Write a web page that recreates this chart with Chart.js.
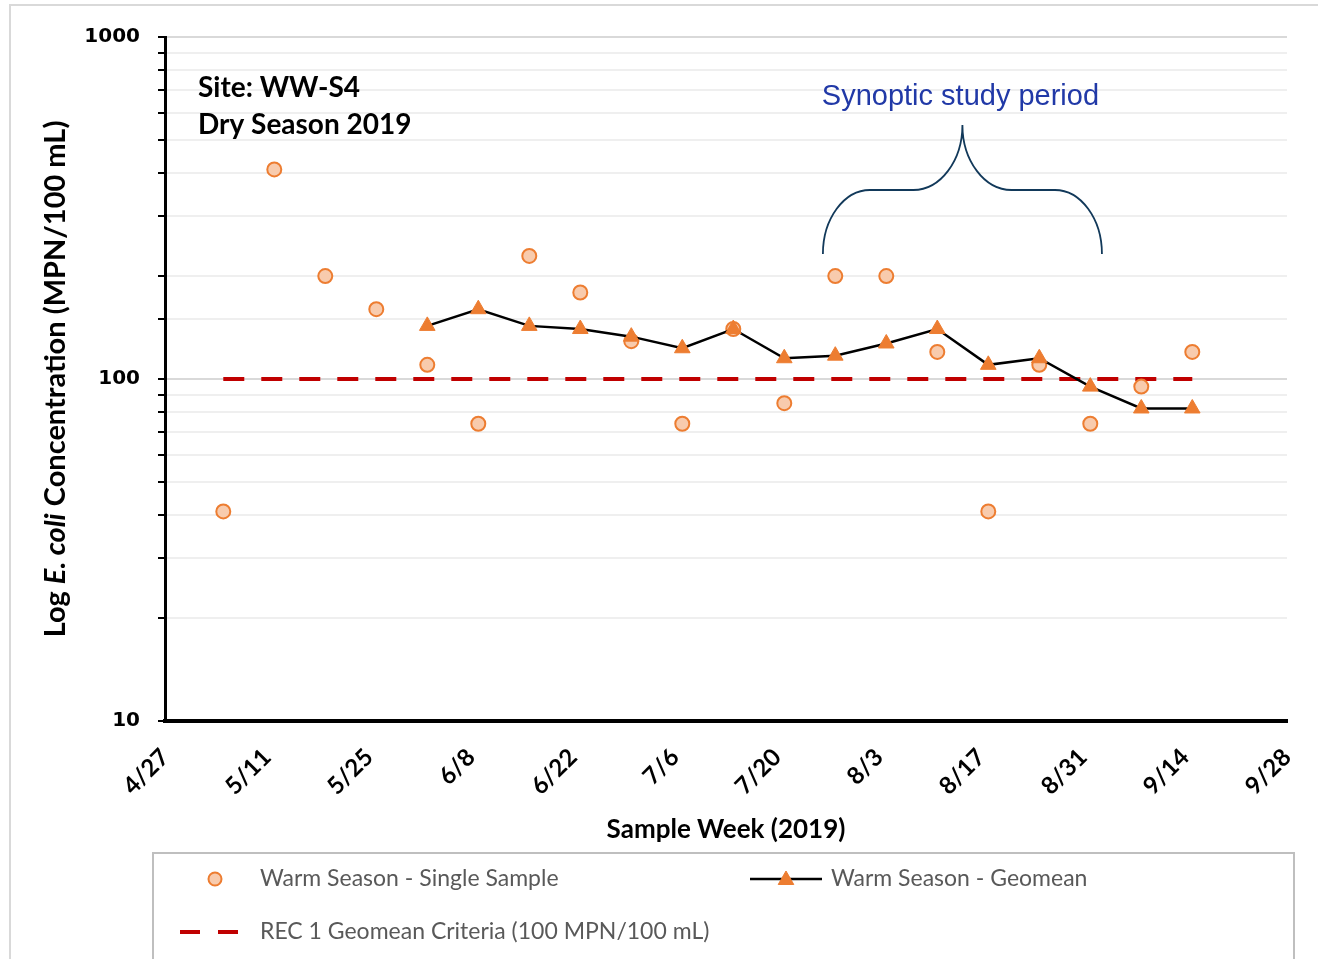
<!DOCTYPE html>
<html>
<head>
<meta charset="utf-8">
<title>WW-S4 Dry Season 2019</title>
<script src="https://cdn.jsdelivr.net/npm/chart.js@4.4.1/dist/chart.umd.min.js"></script>
<style>
  html,body{margin:0;padding:0;background:#fff}
  #wrap{width:1318px;height:959px;position:relative}
</style>
</head>
<body>
<div id="wrap"><canvas id="chart" width="1318" height="959"></canvas></div>
<script>
// sample weeks (2019) and E. coli results
const sampleWeeks = ['5/5','5/12','5/19','5/26','6/2','6/9','6/16','6/23','6/30','7/7','7/14','7/21','7/28','8/4','8/11','8/18','8/25','9/1','9/8','9/15'];
const singleSample = [41,410,200,160,110,74,229,179,129,74,140,85,200,200,120,41,110,74,95,120];

const geomeanWeeks = ['6/2','6/9','6/16','6/23','6/30','7/7','7/14','7/21','7/28','8/4','8/11','8/18','8/25','9/1','9/8','9/15'];
const geomean = [143,160,143,140,133,123,140,115,117,127,140,110,115,95,82,82];

const criteriaWeeks = ['5/5','9/15'];
const criteria = [100,100];

const tickLabels = ['4/27','5/11','5/25','6/8','6/22','7/6','7/20','8/3','8/17','8/31','9/14','9/28'];
const yLabels = [10,100,1000];

const START = Date.UTC(2019,3,27);
const dayOf = s => { const [m,d] = s.split('/').map(Number); return (Date.UTC(2019,m-1,d)-START)/86400000; };
const pts = (weeks, vals) => weeks.map((w,i)=>({x:dayOf(w), y:vals[i]}));

const ORANGE = '#ed7d31', PEACH = '#f8cbad', RED = '#c00000';

const extras = {
  id:'extras',
  beforeDraw(chart){
    const c = chart.ctx;
    c.save();
    c.fillStyle = '#fff';
    c.fillRect(0,0,chart.width,chart.height);
    c.strokeStyle = '#d9d9d9';
    c.lineWidth = 2;
    c.strokeRect(10,5,1400,1100);
    c.restore();
  },
  afterDraw(chart){
    const c = chart.ctx, a = chart.chartArea;
    const xs = chart.scales.x, ys = chart.scales.y;
    c.save();

    // y axis title with italic species name
    const parts = [['Log ','bold 29px Lato'],['E. coli','italic bold 29px Lato'],[' Concentration (MPN/100 mL)','bold 29px Lato']];
    let w = 0;
    parts.forEach(p=>{ c.font = p[1]; w += c.measureText(p[0]).width; });
    c.translate(56,(a.top+a.bottom)/2);
    c.rotate(-Math.PI/2);
    c.fillStyle = '#000';
    c.textBaseline = 'middle';
    c.textAlign = 'left';
    let px = -w/2;
    parts.forEach(p=>{ c.font = p[1]; c.fillText(p[0],px,0); px += c.measureText(p[0]).width; });
    c.setTransform(1,0,0,1,0,0);

    // site label
    c.font = 'bold 28px Lato';
    c.fillStyle = '#000';
    c.textAlign = 'left';
    c.textBaseline = 'middle';
    c.fillText('Site: WW-S4', a.left+33, 88);
    c.fillText('Dry Season 2019', a.left+33, 125);

    // synoptic study brace
    const xl = xs.getPixelForValue(dayOf('7/26')+0.3), xr = xs.getPixelForValue(dayOf('9/2')+0.6);
    const xm = (xl+xr)/2;
    const yb = ys.getPixelForValue(232), yh = ys.getPixelForValue(357), yt = ys.getPixelForValue(553);
    const r1 = 47, k = 0.55;
    c.strokeStyle = '#12395a';
    c.lineWidth = 1.8;
    c.beginPath();
    c.moveTo(xl,yb);
    c.bezierCurveTo(xl,yb-(yb-yh)*k, xl+r1-r1*k,yh, xl+r1,yh);
    c.lineTo(xm-49,yh);
    c.bezierCurveTo(xm-49+49*k,yh, xm,yt+(yh-yt)*k, xm,yt);
    c.bezierCurveTo(xm,yt+(yh-yt)*k, xm+49-49*k,yh, xm+49,yh);
    c.lineTo(xr-r1,yh);
    c.bezierCurveTo(xr-r1+r1*k,yh, xr,yb-(yb-yh)*k, xr,yb);
    c.stroke();
    c.font = '29px "Liberation Sans", Arial';
    c.fillStyle = '#2139a7';
    c.textAlign = 'center';
    c.fillText('Synoptic study period', xm-2, 97);

    // legend
    c.strokeStyle = '#bfbfbf';
    c.lineWidth = 2;
    c.strokeRect(153,853,1141,200);
    c.font = '23px Lato';
    c.fillStyle = '#595959';
    c.textAlign = 'left';
    c.textBaseline = 'middle';
    const h = Chart.helpers;
    c.lineWidth = 2;
    c.strokeStyle = ORANGE; c.fillStyle = PEACH;
    h.drawPoint(c,{pointStyle:'circle',radius:6.5,borderWidth:2},215,879);
    c.fillStyle = '#595959';
    c.fillText('Warm Season - Single Sample',260,879);
    c.strokeStyle = '#000'; c.lineWidth = 2.5;
    c.beginPath(); c.moveTo(750,879); c.lineTo(822,879); c.stroke();
    c.fillStyle = ORANGE; c.strokeStyle = ORANGE; c.lineWidth = 1;
    h.drawPoint(c,{pointStyle:'triangle',radius:9,borderWidth:1},786,880);
    c.fillStyle = '#595959';
    c.fillText('Warm Season - Geomean',831,879);
    c.strokeStyle = RED; c.lineWidth = 4; c.setLineDash([20,18]);
    c.beginPath(); c.moveTo(180,932); c.lineTo(238,932); c.stroke();
    c.setLineDash([]);
    c.fillText('REC 1 Geomean Criteria (100 MPN/100 mL)',260,932);
    c.restore();
  }
};

new Chart(document.getElementById('chart'), {
  type:'line',
  data:{
    datasets:[
      {
        label:'Warm Season - Single Sample',
        data:pts(sampleWeeks,singleSample),
        showLine:false,
        pointStyle:'circle',
        pointRadius:7,
        pointBorderWidth:2,
        pointBorderColor:ORANGE,
        pointBackgroundColor:PEACH,
        order:1
      },
      {
        label:'Warm Season - Geomean',
        data:pts(geomeanWeeks,geomean),
        borderColor:'#000',
        borderWidth:2.5,
        pointStyle:'triangle',
        pointRadius:9,
        pointBorderWidth:1,
        pointBorderColor:ORANGE,
        pointBackgroundColor:ORANGE,
        tension:0,
        order:0
      },
      {
        label:'REC 1 Geomean Criteria (100 MPN/100 mL)',
        data:pts(criteriaWeeks,criteria),
        borderColor:RED,
        borderWidth:4,
        borderDash:[21,17],
        pointRadius:0,
        order:2
      }
    ]
  },
  options:{
    responsive:false,
    animation:false,
    events:[],
    layout:{padding:{top:37,right:31,bottom:106,left:0}},
    plugins:{legend:{display:false},tooltip:{enabled:false}},
    scales:{
      x:{
        type:'linear',
        min:0, max:154,
        afterBuildTicks:s=>{ s.ticks = tickLabels.map((t,i)=>({value:i*14})); },
        afterFit:s=>{ s.height = 132; s.paddingRight = 0; s.paddingLeft = 0; },
        grid:{display:false},
        border:{display:true,color:'#000',width:4},
        ticks:{
          autoSkip:false,
          maxRotation:45, minRotation:45,
          padding:14,
          color:'#000',
          font:{family:'Lato',size:24,weight:'bold'},
          callback:(v)=>tickLabels[Math.round(v/14)]
        },
        title:{display:true,text:'Sample Week (2019)',color:'#000',font:{family:'Lato',size:26,weight:'bold'},padding:{top:0,bottom:8}}
      },
      y:{
        type:'logarithmic',
        min:10, max:1000,
        afterFit:s=>{ s.width = 165; },
        border:{display:true,color:'#000',width:3},
        grid:{
          color:ctx=>(ctx.tick && (ctx.tick.value===100 || ctx.tick.value===1000)) ? '#d9d9d9' : '#efefef',
          lineWidth:2,
          drawTicks:true,
          tickLength:7,
          tickColor:'#000',
          tickWidth:2
        },
        ticks:{
          autoSkip:false,
          padding:18,
          color:'#000',
          font:{family:'"DejaVu Sans"',size:20,weight:'bold'},
          callback:(v)=>yLabels.includes(v) ? String(v) : ''
        }
      }
    }
  },
  plugins:[extras]
});
</script>
</body>
</html>
